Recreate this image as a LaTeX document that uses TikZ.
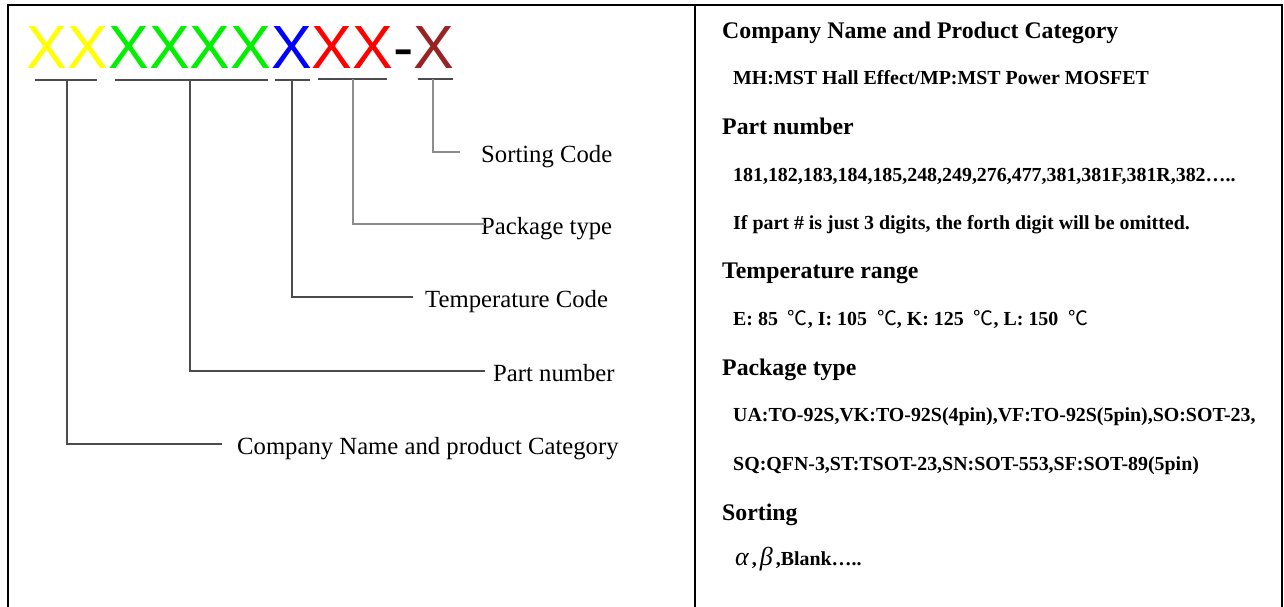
\documentclass[tikz,border=0pt]{standalone}
\usepackage{fontspec}
\setmainfont{Liberation Serif}
\newfontfamily\arialf{Liberation Sans}
\newfontfamily\cjk{Noto Sans CJK SC}
\definecolor{cyel}{RGB}{255,255,0}
\definecolor{cgrn}{RGB}{0,240,0}
\definecolor{cblu}{RGB}{0,0,255}
\definecolor{cred}{RGB}{255,0,0}
\definecolor{cbrn}{RGB}{153,34,34}
\newcommand{\degc}{\hspace{10pt}{\mdseries\cjk ℃}}
\newcommand{\grk}[1]{{\fontsize{26}{26}\selectfont\mdseries\itshape #1\hspace{3pt}}}
\begin{document}
\begin{tikzpicture}[x=1pt,y=-1pt,
  big/.style={font=\arialf\fontsize{61}{61}\selectfont, inner sep=0pt, outer sep=0pt, anchor=base west},
  lbl/.style={font=\fontsize{24.7}{28}\selectfont, inner sep=0pt, anchor=base west},
  head/.style={font=\bfseries\fontsize{23.8}{28}\selectfont, inner sep=0pt, anchor=base west},
  body/.style={font=\bfseries\fontsize{19.9}{24}\selectfont, inner sep=0pt, anchor=base west},
  frame/.style={line width=2.6pt},
  uline/.style={draw=black!70, line width=1.1pt},
  conn/.style={draw=black!70, line width=1.1pt},
  connl/.style={draw=black!45, line width=1.1pt}]
\useasboundingbox (0,0) rectangle (1284,607);
% frame
\draw[frame] (8,607) -- (8,5) -- (1282,5) -- (1282,607);
\draw[frame] (695,5) -- (695,607);
% code letters
\node[big, text=cyel] (cc) at (27,69) {XX};
\node[big, text=cgrn] (pn) at (cc.base east) {XXXX};
\node[big, text=cblu] (tc) at (pn.base east) {X};
\node[big, text=cred] (pk) at (tc.base east) {XX};
\node[big, text=black] (ds) at (pk.base east) {-};
\node[big, text=cbrn] (sc) at (ds.base east) {X};
% underlines
\draw[uline] (35,80) -- (97,80);
\draw[uline] (115,80) -- (268,80);
\draw[uline] (275,80) -- (310,80);
\draw[uline] (318,79) -- (387,79);
\draw[uline] (418,79) -- (453,79);
\coordinate (u1) at (67,80);
\coordinate (u2) at (190,80);
\coordinate (u3) at (292,80);
\coordinate (u4) at (353,79);
\coordinate (u5) at (433,79);
\coordinate (e1) at (222,444);
\coordinate (e2) at (485,371);
\coordinate (e3) at (413,297);
\coordinate (e4) at (485,224);
\coordinate (e5) at (460,152);
% labels
\node[lbl] (l5) at (481,162) {Sorting Code};
\node[lbl] (l4) at (481,234) {Package type};
\node[lbl] (l3) at (425,307) {Temperature Code};
\node[lbl] (l2) at (493,381) {Part number};
\node[lbl] (l1) at (237,454) {Company Name and product Category};
% connectors
\draw[connl] (u5) |- (e5);
\draw[connl] (u4) |- (e4);
\draw[conn] (u3) |- (e3);
\draw[conn] (u2) |- (e2);
\draw[conn] (u1) |- (e1);
% right panel
\node[head] (h1) at (722,39) {Company Name and Product Category};
\node[body] (b1) at (733,85) {MH:MST Hall Effect/MP:MST Power MOSFET};
\node[head] (h2) at (722,135) {Part number};
\node[body] (b2) at (733,181) {181,182,183,184,185,248,249,276,477,381,381F,381R,382…..};
\node[body] (b3) at (733,229) {If part \# is just 3 digits, the forth digit will be omitted.};
\node[head] (h3) at (722,278) {Temperature range};
\node[body] (b4) at (733,325) {E: 85\degc, I: 105\degc, K: 125\degc, L: 150\degc};
\node[head] (h4) at (722,375) {Package type};
\node[body] (b5) at (733,421) {UA:TO-92S,VK:TO-92S(4pin),VF:TO-92S(5pin),SO:SOT-23,};
\node[body] (b6) at (733,470) {SQ:QFN-3,ST:TSOT-23,SN:SOT-553,SF:SOT-89(5pin)};
\node[head] (h5) at (722,520) {Sorting};
\node[body] (b7) at (735,565) {\grk{α},\hspace{3pt}\grk{β},Blank…..};
\end{tikzpicture}
\end{document}
